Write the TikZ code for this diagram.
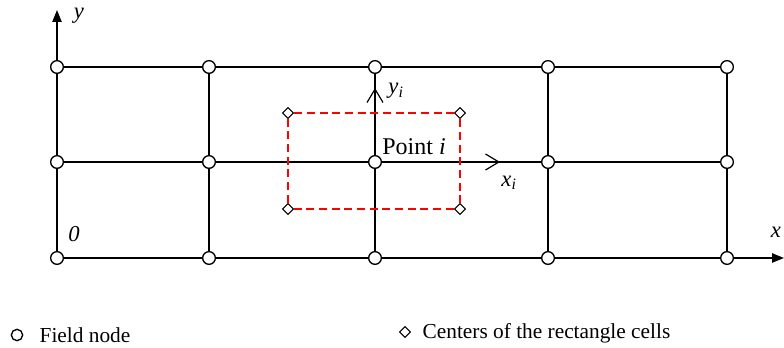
\documentclass[tikz,border=0pt]{standalone}
\usepackage{fontspec}
\setmainfont{Liberation Serif}
\usetikzlibrary{shapes.geometric,arrows.meta}
\begin{document}
\begin{tikzpicture}[x=0.75pt, y=-0.75pt, line width=1pt,
    fnode/.style={draw, circle, fill=white, inner sep=0pt, minimum size=9.5pt},
    cnode/.style={draw, diamond, fill=white, inner sep=0pt, minimum size=8.5pt, line width=0.8pt},
    lbl/.style={font=\fontsize{17}{20}\selectfont, inner sep=0pt},
    leg/.style={font=\fontsize{16}{19}\selectfont, inner sep=0pt, anchor=west},
    axis/.style={-{Triangle[length=9pt, width=7pt]}},
    local/.style={-{Straight Barb[length=10pt, width=12pt, line width=0.9pt]}}]
\useasboundingbox (0,0) rectangle (784,348);
% grid points
\foreach \i/\x in {1/57,2/209,3/375,4/548,5/727}
    \foreach \j/\y in {1/67,2/162,3/258}
        \coordinate (p-\i-\j) at (\x,\y);
\coordinate (xend) at (784,258);
\coordinate (yend) at (57,10);
\foreach \j in {1,2}
    \draw (p-1-\j) -- (p-5-\j);
\foreach \i in {2,...,5}
    \draw (p-\i-1) -- (p-\i-3);
\draw[axis] (p-1-3) -- (xend);
\draw[axis] (p-1-3) -- (yend);
\foreach \i in {1,...,5}
    \foreach \j in {1,2,3}
        \node[fnode] (f-\i-\j) at (p-\i-\j) {};
% local frame of point i
\coordinate (yi-end) at (375,88);
\coordinate (xi-end) at (500,162);
\draw[local] (f-3-2) -- (yi-end);
\draw[local] (f-3-2) -- (xi-end);
% rectangle cell
\node[cnode] (c-1) at (288,113) {};
\node[cnode] (c-2) at (460,113) {};
\node[cnode] (c-3) at (460,209) {};
\node[cnode] (c-4) at (288,209) {};
\draw[red, dash pattern=on 6pt off 3.5pt] (c-1) -- (c-2) -- (c-3) -- (c-4) -- (c-1);
% labels
\node[lbl] (ylab) at (79,16) {\itshape y};
\node[lbl] (xlab) at (776,232) {\itshape x};
\node[lbl] (olab) at (74,234) {\itshape 0};
\node[lbl, font=\fontsize{18}{21}\selectfont] (plab) at (414,147) {Point \textit{i}};
\node[lbl] (yilab) at (396,91) {\itshape y\textsubscript{i}};
\node[lbl] (xilab) at (509,183) {\itshape x\textsubscript{i}};
% legend
\node[fnode, minimum size=8.5pt] (leg-f) at (17,335) {};
\node[leg] (leg-ft) at (39,335) {Field node};
\node[cnode] (leg-c) at (405,332) {};
\node[leg] (leg-ct) at (422,333) {Centers of the rectangle cells};
\end{tikzpicture}
\end{document}
